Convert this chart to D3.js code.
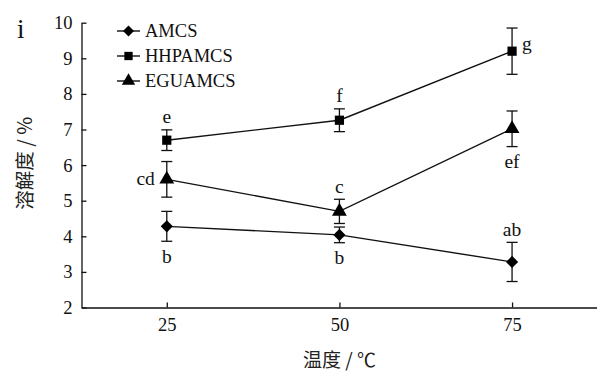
<!DOCTYPE html>
<html>
<head>
<meta charset="utf-8">
<script src="https://cdn.jsdelivr.net/npm/d3@7"></script>
<style>
  html, body { margin: 0; padding: 0; background: #fff; }
  svg { display: block; }
</style>
</head>
<body>
<div id="chart"></div>
<script>
const temps = [25, 50, 75];
const seriesNames = ['AMCS', 'HHPAMCS', 'EGUAMCS'];
const amcsMean = [4.28, 4.04, 3.28];
const amcsErr = [0.42, 0.22, 0.55];
const hhpMean = [6.70, 7.26, 9.20];
const hhpErr = [0.29, 0.32, 0.65];
const eguMean = [5.60, 4.70, 7.02];
const eguErr = [0.50, 0.34, 0.50];
const amcsLetters = ['b', 'b', 'ab'];
const hhpLetters = ['e', 'f', 'g'];
const eguLetters = ['cd', 'c', 'ef'];
const yTicks = [2, 3, 4, 5, 6, 7, 8, 9, 10];

const width = 597, height = 374;
const serif = 'Liberation Serif';
const cjk = 'Noto Sans CJK SC';

const svg = d3.select('#chart').append('svg')
    .attr('width', width).attr('height', height);

const xScale = d3.scaleLinear().domain([12.65, 87.3]).range([81.5, 597]);
const yScale = d3.scaleLinear().domain([2, 10]).range([307.5, 22.7]);

// axes with inward ticks
svg.append('g')
    .attr('transform', `translate(0, ${yScale(2)})`)
    .call(d3.axisBottom(xScale).tickValues(temps).tickSizeInner(-5).tickSizeOuter(0).tickPadding(10));
svg.append('g')
    .attr('transform', `translate(${xScale.range()[0]}, 0)`)
    .call(d3.axisLeft(yScale).tickValues(yTicks).tickSizeInner(-5).tickSizeOuter(0).tickPadding(9));
svg.selectAll('g').attr('font-family', serif).attr('font-size', 18.5);
svg.selectAll('.domain, .tick line').attr('stroke', '#111').attr('stroke-width', 1.3);
svg.selectAll('.tick text').attr('fill', '#111');

svg.append('text')
    .attr('transform', `translate(23, ${yScale(6.05)}) rotate(-90)`)
    .attr('text-anchor', 'middle')
    .attr('dominant-baseline', 'central')
    .attr('fill', '#222')
    .attr('font-family', cjk).attr('font-size', 19.5)
    .text('溶解度 / %');
svg.append('text')
    .attr('x', xScale(50)).attr('y', 358)
    .attr('text-anchor', 'middle')
    .attr('dominant-baseline', 'central')
    .attr('fill', '#222')
    .attr('font-family', cjk).attr('font-size', 19)
    .text('温度 / ℃');
svg.append('text')
    .attr('x', 17).attr('y', 38)
    .attr('fill', '#111')
    .attr('font-family', serif).attr('font-size', 27)
    .text('i');

const diamond = d3.symbol().type(d3.symbolSquare).size(74)();
const symbolPaths = [diamond, d3.symbol().type(d3.symbolSquare).size(85)(), d3.symbol().type(d3.symbolTriangle).size(95)()];
const symRotate = [45, 0, 0];
const series = [
    { name: seriesNames[0], mean: amcsMean, err: amcsErr, letters: amcsLetters },
    { name: seriesNames[1], mean: hhpMean, err: hhpErr, letters: hhpLetters },
    { name: seriesNames[2], mean: eguMean, err: eguErr, letters: eguLetters }
];
// where each letter sits: below / above the error bar, right or left of the point
const labelPlace = [
    ['below', 'below', 'above'],
    ['above', 'above', 'right'],
    ['left', 'above', 'below']
];

const line = d3.line().x((d, i) => xScale(temps[i])).y(d => yScale(d));
const cap = 5.5;

series.forEach((s, si) => {
    const g = svg.append('g');
    g.append('path')
        .attr('d', line(s.mean))
        .attr('fill', 'none').attr('stroke', '#111').attr('stroke-width', 1.4);
    s.mean.forEach((m, i) => {
        const x = xScale(temps[i]);
        const y0 = yScale(m - s.err[i]);
        const y1 = yScale(m + s.err[i]);
        g.append('line').attr('x1', x).attr('x2', x).attr('y1', y0).attr('y2', y1)
            .attr('stroke', '#111').attr('stroke-width', 1.3);
        [y0, y1].forEach(yy => g.append('line')
            .attr('x1', x - cap).attr('x2', x + cap).attr('y1', yy).attr('y2', yy)
            .attr('stroke', '#111').attr('stroke-width', 1.3));
        g.append('path')
            .attr('d', symbolPaths[si])
            .attr('transform', `translate(${x}, ${yScale(m)}) rotate(${symRotate[si]})`)
            .attr('fill', '#000');
        const place = labelPlace[si][i];
        const t = g.append('text')
            .attr('fill', '#111')
            .attr('font-family', serif).attr('font-size', 19.5)
            .attr('dominant-baseline', 'central')
            .text(s.letters[i]);
        if (place === 'below') {
            t.attr('text-anchor', 'middle').attr('x', x).attr('y', y0 + 15);
        } else if (place === 'above') {
            t.attr('text-anchor', 'middle').attr('x', x).attr('y', y1 - 13);
        } else if (place === 'right') {
            t.attr('text-anchor', 'start').attr('x', x + 10).attr('y', yScale(m) - 8);
        } else {
            t.attr('text-anchor', 'end').attr('x', x - 12).attr('y', yScale(m) - 1);
        }
    });
});

// legend
const legend = svg.append('g');
series.forEach((s, si) => {
    const ly = 31 + si * 25;
    legend.append('line').attr('x1', 117).attr('x2', 140).attr('y1', ly).attr('y2', ly)
        .attr('stroke', '#111').attr('stroke-width', 1.4);
    legend.append('path')
        .attr('d', symbolPaths[si])
        .attr('transform', `translate(128.5, ${ly}) rotate(${symRotate[si]}) scale(0.9)`)
        .attr('fill', '#000');
    legend.append('text')
        .attr('x', 145).attr('y', ly)
        .attr('dominant-baseline', 'central')
        .attr('fill', '#111')
        .attr('font-family', serif).attr('font-size', 18.5)
        .text(s.name);
});
</script>
</body>
</html>
